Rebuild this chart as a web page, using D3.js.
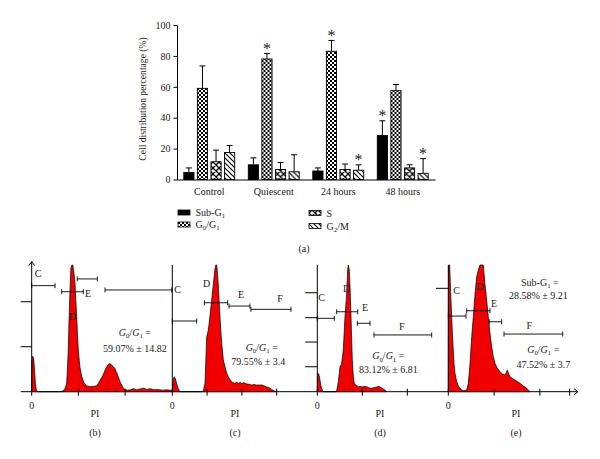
<!DOCTYPE html>
<html><head><meta charset="utf-8">
<script src="https://cdn.jsdelivr.net/npm/d3@7"></script>
<style>
body{margin:0;background:#fff}
svg{display:block}
text{font-family:"Liberation Serif","Times New Roman",serif;fill:#1a1a1a}
</style>
</head><body>
<svg id="chart" width="600" height="459"></svg>
<script>
// ---------- Panel (a): bar chart data ----------
const categories = ["Control", "Quiescent", "24 hours", "48 hours"];
const seriesKeys = ["sub", "g0", "s", "g2"];
const subG1Values = [4.5, 9.5, 5.5, 28.5];
const g0g1Values = [59, 78, 83, 57.5];
const sPhaseValues = [11.5, 6.5, 6.5, 7.5];
const g2mValues = [17.5, 5, 6, 4];
const subG1Err = [3, 4.5, 2, 9.5];
const g0g1Err = [14.5, 3.5, 7, 4];
const sPhaseErr = [7.5, 4.5, 3.5, 2];
const g2mErr = [4.5, 11, 3.5, 9.5];
const subG1Sig = [0, 0, 0, 1];
const g0g1Sig = [0, 1, 1, 0];
const sPhaseSig = [0, 0, 0, 0];
const g2mSig = [0, 0, 1, 1];
const yTicks = [0, 20, 40, 60, 80, 100];

// ---------- Panels (b)-(e): DNA histograms (channel, relative count) ----------
const histB = [[0,0],[0.5,24],[2,28],[4,27],[6,18],[8,6],[10,1.5],[12,0],[60,0],[67,0.5],[72,3],[75,7],[78,30],[80,57],[82,80],[84,98],[86,101],[88,101],[90,95],[92.7,86],[94.5,72],[96.4,59],[98,45],[99.8,33],[103,20],[107,12],[112,7],[117.8,4.5],[125,4],[132,4.3],[139,4.5],[142.6,6.6],[148,10],[153,13.2],[157,17],[160.6,19.7],[164,21.5],[167.7,22.3],[171,21],[174,20],[178,18.4],[182,15],[185.4,11.8],[189,8],[192.7,5.3],[196,3],[199.8,1.8],[205,1.2],[212,1.5],[218,2.5],[224,1.4],[232,2.2],[240,2.8],[246,1.8],[254,2.4],[262,1.5],[270,1.8],[280,1.2],[290,1.5],[300,1]];
const histC = [[0,0],[1,4],[3,9],[5,11.8],[8,11],[12,7],[16,3],[20,1],[23,0],[86,0],[89,0.5],[94,6.6],[98.8,43],[103.5,48.7],[108,59],[113,72],[118,85],[122.7,97],[125,100],[127.6,100],[130,93],[132,85],[134.5,72],[137,59],[139.5,48],[142,38],[146.6,25],[151.4,19.7],[156,15],[161,11.8],[166,9.5],[170.7,7.9],[175,7],[180,6.6],[185,7.6],[190,6.5],[195,7.4],[200,6.3],[205,7.2],[212,6.2],[220,5.9],[228,5.3],[235,5.6],[242,5.2],[250,5.3],[257,5.3],[265,4.5],[270,3.8],[276,3.5],[285,2],[292,0.8],[296,0]];
const histD = [[0,0],[0.5,12],[2,14.5],[4,13],[6,9],[8,5],[10,2],[13,0],[40,0],[43,0.5],[46.8,7.9],[50.4,19.7],[54,22],[57.8,33],[61.5,59],[65.2,77],[67.4,96],[69,100],[71,96],[73,80],[74.9,59],[76.5,40],[77.8,25],[80,12],[82.2,6.6],[86,5],[91,4],[96,4.2],[100,3.7],[105,4.3],[109.8,4],[115,3],[120.9,2.7],[126,3.2],[132,3.7],[136,4.2],[139.3,3.9],[145,2.5],[150.4,1.3],[154,0]];
const histE = [[0,0],[0.5,100],[3,100],[5,80],[7.4,59],[9,45],[10.9,33],[12.5,22],[14.6,14.5],[18.3,7.9],[22,4.5],[25.5,2.7],[29,1.5],[32.8,0.8],[37,1],[40.2,1.3],[43.7,6.6],[47.4,22],[51.1,43.4],[54.6,59],[58.3,77],[62,90.8],[65.5,96],[69.2,100],[76.4,100],[80.1,85],[83.8,72],[87.3,59],[91,46],[94.8,35.5],[98,28],[102,22.4],[107,18.5],[112.9,15.8],[118,14],[123.8,13.2],[126.5,15],[128.8,17.1],[131,15],[134.7,11.8],[140,10.5],[145.6,9.2],[151,8],[156.6,6.6],[164,4.5],[171.2,2.7],[175,1.2],[178.4,0]];

// gates: [from, to, level]
const gatesB = [[0,49.9,83.7],[64.2,110.5,78.9],[97.6,140.5,89],[157,300,80.3]];
const gatesC = [[0,70,55.8],[92,159,70.2],[163,223,67.6],[226,341,65]];
const gatesD = [[0,37.8,57.9],[43.1,89.8,63.1],[88.9,117.1,54],[126,254.2,44.8]];
const gatesE = [[0,38.6,59.7],[40.2,91,63.9],[89.5,116.6,55.2],[121.6,249.8,45.5]];
// gate letters: [label, channel, level]
const lettersB = [["C",13.5,93.5],["E",120.6,77.5],["D",87.8,59.2]];
const lettersC = [["C",15.5,80.8],["D",98.9,85.6],["E",197.4,76.9],["F",309.5,73.7]];
const lettersD = [["C",9.8,74.2],["D",65.3,81.6],["E",106,66.6],["F",187.6,51.3]];
const lettersE = [["C",18.3,79.7],["D",69.2,83.4],["E",99.8,69.8],["F",176.9,52.6]];
const xTicksB = [0,100,200];
const xTicksC = [0,100,200,300];
const xTicksD = [0,100,200];
const xTicksE = [0,100,200,265];
const yTicksB = [71,35.5];
const yTicksD = [78.1,58.4,39.2,19.7];
const yTicksE = [81.6];

const svg = d3.select("#chart");
const FONT = "Liberation Serif, Times New Roman, serif";

// ---------- patterns ----------
const defs = svg.append("defs");
const pc = defs.append("pattern").attr("id","checker").attr("patternUnits","userSpaceOnUse").attr("width",4).attr("height",4);
pc.append("rect").attr("width",4).attr("height",4).attr("fill","#fff");
pc.append("rect").attr("width",2).attr("height",2).attr("fill","#000");
pc.append("rect").attr("x",2).attr("y",2).attr("width",2).attr("height",2).attr("fill","#000");
const px = defs.append("pattern").attr("id","cross").attr("patternUnits","userSpaceOnUse").attr("width",6).attr("height",6);
px.append("rect").attr("width",6).attr("height",6).attr("fill","#fff");
px.append("path").attr("d","M0,0L6,6M6,0L0,6M-1,5L1,7M5,-1L7,1M-1,1L1,-1M5,7L7,5").attr("stroke","#000").attr("stroke-width",1.3);
const pd = defs.append("pattern").attr("id","diag").attr("patternUnits","userSpaceOnUse").attr("width",5).attr("height",5);
pd.append("rect").attr("width",5).attr("height",5).attr("fill","#fff");
pd.append("path").attr("d","M0,0L5,5M-1,4L1,6M4,-1L6,1").attr("stroke","#000").attr("stroke-width",1.2);

const fills = {sub:"#000", g0:"url(#checker)", s:"url(#cross)", g2:"url(#diag)"};

function richText(g, x, y, parts, size, anchor) {
  const t = g.append("text").attr("x", x).attr("y", y).attr("font-size", size)
    .attr("text-anchor", anchor || "start").style("font-family", FONT);
  let shifted = 0;
  const shift = size * 0.22;
  parts.forEach(p => {
    const ts = t.append("tspan").text(p[0]);
    const st = p[1] || "";
    let dy = 0;
    if (st.includes("sub")) { dy = shift - shifted; shifted = shift; ts.attr("font-size", size * 0.68); }
    else { dy = -shifted; shifted = 0; }
    if (dy) ts.attr("dy", dy);
    if (st.includes("it")) ts.attr("font-style", "italic");
  });
  return t;
}

// ---------- Panel (a) ----------
const x0 = d3.scaleBand().domain(categories).range([177, 435]).padding(0);
const x1 = d3.scaleBand().domain(seriesKeys).range([0, x0.bandwidth()]).paddingInner(0.25).paddingOuter(0.5);
const y = d3.scaleLinear().domain([0, 100]).range([179.5, 25]);

const rows = categories.map((c, i) => ({
  cat: c,
  bars: [
    {key:"sub", v:subG1Values[i], e:subG1Err[i], sig:subG1Sig[i]},
    {key:"g0", v:g0g1Values[i], e:g0g1Err[i], sig:g0g1Sig[i]},
    {key:"s", v:sPhaseValues[i], e:sPhaseErr[i], sig:sPhaseSig[i]},
    {key:"g2", v:g2mValues[i], e:g2mErr[i], sig:g2mSig[i]}
  ]
}));

const ga = svg.append("g");
const groups = ga.selectAll("g.grp").data(rows).join("g").attr("class","grp")
  .attr("transform", d => `translate(${x0(d.cat)},0)`);
const bar = groups.selectAll("g.bar").data(d => d.bars).join("g").attr("class","bar");
bar.append("line")
  .attr("x1", d => x1(d.key) + x1.bandwidth()/2).attr("x2", d => x1(d.key) + x1.bandwidth()/2)
  .attr("y1", d => y(d.v)).attr("y2", d => y(d.v + d.e)).attr("stroke","#000").attr("stroke-width",1);
bar.append("line")
  .attr("x1", d => x1(d.key) + x1.bandwidth()/2 - 3).attr("x2", d => x1(d.key) + x1.bandwidth()/2 + 3)
  .attr("y1", d => y(d.v + d.e)).attr("y2", d => y(d.v + d.e)).attr("stroke","#000").attr("stroke-width",1);
bar.append("rect")
  .attr("x", d => x1(d.key)).attr("width", x1.bandwidth())
  .attr("y", d => y(d.v)).attr("height", d => y(0) - y(d.v))
  .attr("fill", d => fills[d.key]).attr("stroke","#000").attr("stroke-width",0.9);
bar.filter(d => d.sig).append("text")
  .attr("x", d => x1(d.key) + x1.bandwidth()/2).attr("y", d => y(d.v + d.e) + 0.5)
  .attr("text-anchor","middle").attr("font-size",16).style("font-family",FONT).text("*");

const yAxis = ga.append("g").attr("transform","translate(177,0)")
  .call(d3.axisLeft(y).tickValues(yTicks).tickSize(3.5).tickSizeOuter(0).tickPadding(3));
yAxis.selectAll("text").attr("font-size",10).style("font-family",FONT).attr("fill","#1a1a1a");
yAxis.selectAll("line,path").attr("stroke","#000");
const xAxis = ga.append("g").attr("transform",`translate(0,${y(0)})`)
  .call(d3.axisBottom(x0).tickSize(0).tickPadding(8));
xAxis.selectAll("text").attr("font-size",10).style("font-family",FONT).attr("fill","#1a1a1a");
xAxis.select("path").attr("stroke","#000");

ga.append("text").attr("transform","translate(146,99) rotate(-90)").attr("text-anchor","middle")
  .attr("font-size",9.6).style("font-family",FONT).text("Cell distribution percentage (%)");

// legend
const legend = [
  {key:"sub", x:178, y:210, parts:[["Sub-G"],["1","sub"]]},
  {key:"g0", x:178, y:222, parts:[["G"],["0","sub"],["/G"],["1","sub"]]},
  {key:"s", x:309, y:210.5, parts:[["S"]]},
  {key:"g2", x:309, y:223.5, parts:[["G"],["2","sub"],["/M"]]}
];
legend.forEach(l => {
  ga.append("rect").attr("x", l.x).attr("y", l.y).attr("width", 12).attr("height", 5)
    .attr("fill", fills[l.key]).attr("stroke","#000").attr("stroke-width",0.8);
  richText(ga, l.x + 17.5, l.y + 6, l.parts, 10, "start");
});
ga.append("text").attr("x",304).attr("y",251.5).attr("text-anchor","middle").attr("font-size",10)
  .style("font-family",FONT).text("(a)");

// ---------- Histogram panels ----------
const base = 391.7;
const yh = d3.scaleLinear().domain([0, 100]).range([base, 265]).clamp(true);
const panels = [
  {x0:31.7, step:46.7, axisTop:261.7, arrow:true, data:histB, gates:gatesB, letters:lettersB, xt:xTicksB, yt:yTicksB, tickFrom:-23.5, pi:95, tag:"(b)",
   notes:[{x:221, y:46.6, parts:[["G","it"],["0","sub"],["/"],["G","it"],["1","sub"],[" ="]]},{x:221,y:34,parts:[["59.07% ± 14.82"]]}]},
  {x0:172.3, step:34.8, axisTop:265, data:histC, gates:gatesC, letters:lettersC, xt:xTicksC, yt:[], tickFrom:0, pi:235, tag:"(c)",
   notes:[{x:257, y:34.7, parts:[["G","it"],["0","sub"],["/"],["G","it"],["1","sub"],[" ="]]},{x:247,y:24.2,parts:[["79.55% ± 3.4"]]}]},
  {x0:317.3, step:45, axisTop:265, data:histD, gates:gatesD, letters:lettersD, xt:xTicksD, yt:yTicksD, tickFrom:-27, pi:380, tag:"(d)",
   notes:[{x:157.8, y:28.2, parts:[["G","it"],["0","sub"],["/"],["G","it"],["1","sub"],[" ="]]},{x:157.8,y:17.8,parts:[["83.12% ± 6.81"]]}]},
  {x0:448.3, step:45.8, axisTop:265, data:histE, gates:gatesE, letters:lettersE, xt:xTicksE, yt:yTicksE, tickFrom:-27, pi:516, tag:"(e)", endArrow:true,
   notes:[{x:200, y:86, parts:[["Sub-G"],["1","sub"],[" ="]]},{x:196.5,y:76.3,parts:[["28.58% ± 9.21"]]},
          {x:207.4, y:33.3, parts:[["G","it"],["0","sub"],["/"],["G","it"],["1","sub"],[" ="]]},{x:207.4,y:21.4,parts:[["47.52% ± 3.7"]]}]}
];

const gh = svg.append("g");
gh.append("line").attr("x1",20.7).attr("x2",578).attr("y1",base).attr("y2",base).attr("stroke","#000").attr("stroke-width",1);

panels.forEach(p => {
  const xs = d3.scaleLinear().domain([0, 100]).range([p.x0, p.x0 + p.step]);
  const g = gh.append("g");
  const area = d3.area().x(d => xs(d[0])).y0(base).y1(d => yh(d[1]));
  g.append("path").datum(p.data).attr("d", area).attr("fill","#f00000").attr("stroke","#000").attr("stroke-width",0.7);
  g.append("line").attr("x1",p.x0).attr("x2",p.x0).attr("y1",base).attr("y2",p.axisTop).attr("stroke","#000");
  if (p.arrow) {
    g.append("path").attr("d",`M${p.x0-3},${p.axisTop+4}L${p.x0},${p.axisTop}L${p.x0+3},${p.axisTop+4}`).attr("fill","none").attr("stroke","#000");
  }
  p.yt.forEach(t => {
    g.append("line").attr("x1", xs(p.tickFrom)).attr("x2", p.x0).attr("y1", yh(t)).attr("y2", yh(t)).attr("stroke","#000");
  });
  p.xt.forEach(t => {
    g.append("line").attr("x1", xs(t)).attr("x2", xs(t)).attr("y1", base - 3).attr("y2", base + 4).attr("stroke","#000");
  });
  if (p.endArrow) {
    g.append("path").attr("d",`M574,${base-3}L578,${base}L574,${base+3}`).attr("fill","none").attr("stroke","#000");
  }
  p.gates.forEach(gt => {
    const yy = yh(gt[2]);
    g.append("line").attr("x1", xs(gt[0])).attr("x2", xs(gt[1])).attr("y1", yy).attr("y2", yy).attr("stroke","#000").attr("stroke-width",0.9);
    [gt[0], gt[1]].forEach(e => g.append("line").attr("x1", xs(e)).attr("x2", xs(e)).attr("y1", yy - 2.5).attr("y2", yy + 2.5).attr("stroke","#000").attr("stroke-width",0.9));
  });
  p.letters.forEach(l => {
    g.append("text").attr("x", xs(l[1])).attr("y", yh(l[2]) + 3.6).attr("text-anchor","middle")
      .attr("font-size",10).style("font-family",FONT).text(l[0]);
  });
  p.notes.forEach(n => richText(g, xs(n.x), yh(n.y) + 3.5, n.parts, 10, "middle"));
  g.append("text").attr("x", p.x0).attr("y", 408.5).attr("text-anchor","middle").attr("font-size",10).style("font-family",FONT).text("0");
  g.append("text").attr("x", p.pi).attr("y", 416.5).attr("text-anchor","middle").attr("font-size",10).style("font-family",FONT).text("PI");
  g.append("text").attr("x", p.pi).attr("y", 436).attr("text-anchor","middle").attr("font-size",10).style("font-family",FONT).text(p.tag);
});
</script>
</body></html>
